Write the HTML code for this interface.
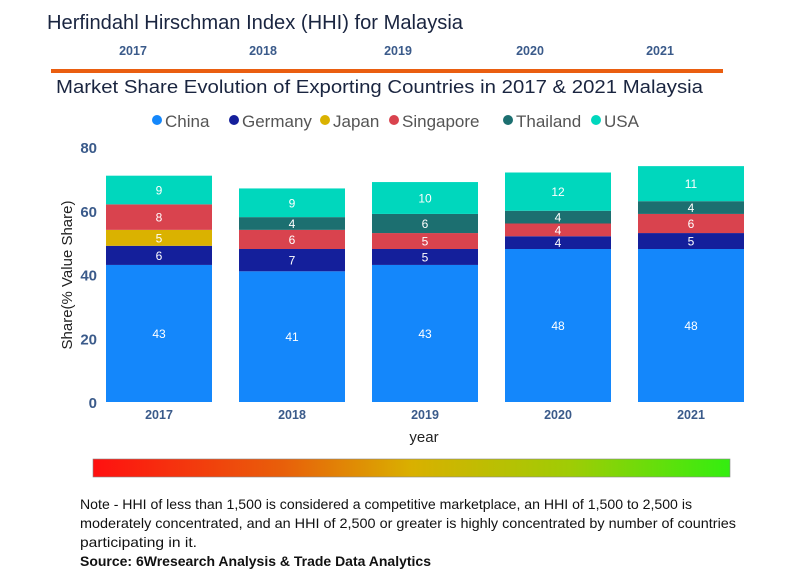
<!DOCTYPE html>
<html><head><meta charset="utf-8"><style>
html,body{margin:0;padding:0;background:#fff;width:800px;height:579px;overflow:hidden}
svg{display:block;font-family:"Liberation Sans","DejaVu Sans",sans-serif}
</style></head><body>
<svg id="c" width="800" height="579" viewBox="0 0 800 579">
<defs><linearGradient id="hg" x1="0" x2="1" y1="0" y2="0">
<stop offset="0" stop-color="#ff1010"/><stop offset="0.3" stop-color="#e8600a"/><stop offset="0.5" stop-color="#d9b000"/><stop offset="0.75" stop-color="#9fcc05"/><stop offset="1" stop-color="#33ee10"/></linearGradient></defs>
<text x="47" y="29" font-size="20" fill="#1a2540" textLength="416" lengthAdjust="spacingAndGlyphs">Herfindahl Hirschman Index (HHI) for Malaysia</text>
<g id="topyears" font-size="12.5" font-weight="bold" fill="#3a5a8a" text-anchor="middle"></g>
<rect x="51" y="69" width="672" height="4" fill="#ea5e10"/>
<text x="56" y="93" font-size="18" fill="#1a2540" textLength="647" lengthAdjust="spacingAndGlyphs">Market Share Evolution of Exporting Countries in 2017 &amp; 2021 Malaysia</text>
<g id="legend" font-size="17" fill="#555"></g>
<g id="yaxis" font-size="15" font-weight="bold" fill="#3a5a8a" text-anchor="end"></g>
<text transform="translate(72,275) rotate(-90)" font-size="15" fill="#222" text-anchor="middle">Share(% Value Share)</text>
<g id="bars"></g>
<g id="xaxis" font-size="12.5" font-weight="bold" fill="#3a5a8a" text-anchor="middle"></g>
<text x="424" y="442" font-size="15" fill="#222" text-anchor="middle">year</text>
<rect x="93" y="459" width="637" height="18" fill="url(#hg)" stroke="#888" stroke-width="0.6"/>
<g font-size="14" fill="#111">
<text x="80" y="509" textLength="612" lengthAdjust="spacingAndGlyphs">Note - HHI of less than 1,500 is considered a competitive marketplace, an HHI of 1,500 to 2,500 is</text>
<text x="80" y="528" textLength="656" lengthAdjust="spacingAndGlyphs">moderately concentrated, and an HHI of 2,500 or greater is highly concentrated by number of countries</text>
<text x="80" y="547" textLength="117" lengthAdjust="spacingAndGlyphs">participating in it.</text>
<text x="80" y="566" font-weight="bold" textLength="351" lengthAdjust="spacingAndGlyphs">Source: 6Wresearch Analysis &amp; Trade Data Analytics</text>
</g>
</svg>
<script>
const years=["2017","2018","2019","2020","2021"];
const seriesNames=["China","Germany","Japan","Singapore","Thailand","USA"];
const china=[43,41,43,48,48];
const germany=[6,7,5,4,5];
const japan=[5,0,0,0,0];
const singapore=[8,6,5,4,6];
const thailand=[0,4,6,4,4];
const usa=[9,9,10,12,11];
const yTicks=[0,20,40,60,80];
const colors=["#1487fb","#141f9b","#dab200","#d9434e","#1c6f70","#00d7bd"];
const NS="http://www.w3.org/2000/svg";
function mk(t,a,p){const e=document.createElementNS(NS,t);for(const k in a)e.setAttribute(k,a[k]);p.appendChild(e);return e;}
const y=v=>402-v*255/80;
const xc=i=>159+i*133;
const bw=106;
const topY=document.getElementById('topyears');
const topX=[133,263,398,530,660];
years.forEach((yr,i)=>{const t=mk('text',{x:topX[i],y:55},topY);t.textContent=yr;

});
const lg=document.getElementById('legend');
const lgX=[152,229,320,389,503,591];
seriesNames.forEach((n,i)=>{const g=mk('g',{},lg);


mk('circle',{cx:lgX[i]+5,cy:120,r:5,fill:colors[i]},g);
const t=mk('text',{x:lgX[i]+13,y:127},g);t.textContent=n;});
const ya=document.getElementById('yaxis');
yTicks.forEach(v=>{const t=mk('text',{x:97,y:y(v)+6},ya);t.textContent=v;

});
const xa=document.getElementById('xaxis');
years.forEach((yr,i)=>{const t=mk('text',{x:xc(i),y:419},xa);t.textContent=yr;

});
const series=[china,germany,japan,singapore,thailand,usa];
const bars=document.getElementById('bars');
years.forEach((yr,i)=>{let base=0;
series.forEach((s,j)=>{const v=s[i];if(!v)return;
const r=mk('rect',{x:xc(i)-bw/2,y:y(base+v),width:bw,height:y(base)-y(base+v),fill:colors[j]},bars);


const t=mk('text',{x:xc(i),y:(y(base)+y(base+v))/2+4.5,'font-size':12,fill:'#fff','text-anchor':'middle'},bars);
t.textContent=v;


base+=v;});});
</script>
</body></html>
